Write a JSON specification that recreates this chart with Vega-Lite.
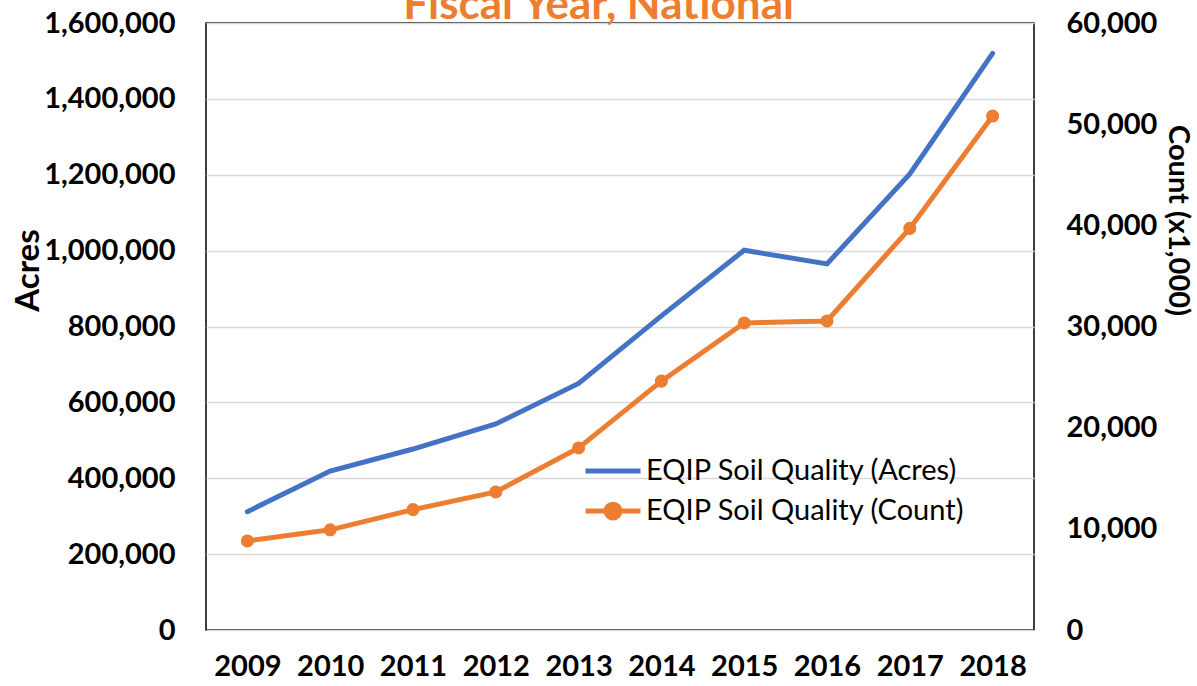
{
  "$schema": "https://vega.github.io/schema/vega-lite/v6.json",
  "width": 828,
  "height": 607,
  "autosize": "none",
  "padding": {"left": 206, "top": 23, "right": 163, "bottom": 56},
  "background": "white",
  "data": {
    "values": [
      {"year": "2009", "acres": 312000, "count": 8800},
      {"year": "2010", "acres": 419000, "count": 9900},
      {"year": "2011", "acres": 477000, "count": 11900},
      {"year": "2012", "acres": 543000, "count": 13650},
      {"year": "2013", "acres": 650000, "count": 18000},
      {"year": "2014", "acres": 828000, "count": 24600},
      {"year": "2015", "acres": 1001000, "count": 30350},
      {"year": "2016", "acres": 965000, "count": 30550},
      {"year": "2017", "acres": 1202000, "count": 39700},
      {"year": "2018", "acres": 1520000, "count": 50800}
    ]
  },
  "layer": [
    {
      "mark": {"type": "line", "strokeWidth": 5, "strokeCap": "round"},
      "encoding": {
        "x": {
          "field": "year",
          "type": "ordinal",
          "scale": {"type": "point", "padding": 0.5},
          "axis": {
            "orient": "bottom",
            "title": null,
            "labelAngle": 0,
            "domain": false,
            "ticks": false,
            "grid": false,
            "labelFont": "Lato",
            "labelFontSize": 29,
            "labelFontWeight": "bold",
            "labelColor": "black",
            "labelPadding": 22
          }
        },
        "y": {
          "field": "acres",
          "type": "quantitative",
          "scale": {"domain": [0, 1600000], "nice": false},
          "axis": {
            "orient": "left",
            "values": [0, 200000, 400000, 600000, 800000, 1000000, 1200000, 1400000, 1600000],
            "format": ",d",
            "domain": false,
            "ticks": false,
            "grid": true,
            "gridColor": "#D9D9D9",
            "gridWidth": 1.5,
            "labelFont": "Lato",
            "labelFontSize": 29,
            "labelFontWeight": "bold",
            "labelColor": "black",
            "labelPadding": 31,
            "title": "Acres",
            "titleFont": "Lato",
            "titleFontSize": 33,
            "titleFontWeight": "bold",
            "titleColor": "black",
            "titleAngle": -90,
            "titleX": -178,
            "titleY": 247,
            "titleBaseline": "middle",
            "titleAlign": "center"
          }
        },
        "color": {
          "datum": "EQIP Soil Quality (Acres)",
          "scale": {"range": ["#4472C4"]},
          "legend": {
            "title": null,
            "orient": "none",
            "legendX": 377,
            "legendY": 418,
            "padding": 0,
            "symbolType": "stroke",
            "symbolSize": 3025,
            "symbolStrokeWidth": 5,
            "labelFont": "Lato",
            "labelFontSize": 29,
            "labelColor": "black",
            "labelOffset": 3,
            "labelLimit": 1000
          }
        }
      }
    },
    {
      "mark": {"type": "line", "strokeWidth": 5, "strokeCap": "round", "point": {"size": 170, "filled": true}},
      "encoding": {
        "x": {
          "field": "year",
          "type": "ordinal",
          "scale": {"type": "point", "padding": 0.5},
          "axis": {
            "orient": "top",
            "labels": false,
            "domain": false,
            "ticks": false,
            "grid": false,
            "title": "Fiscal Year, National",
            "titleFont": "Lato",
            "titleFontSize": 44,
            "titleFontWeight": "bold",
            "titleColor": "#ED7D31",
            "titleX": 392,
            "titleY": -5,
            "titleAlign": "center",
            "titleBaseline": "alphabetic"
          }
        },
        "y": {
          "field": "count",
          "type": "quantitative",
          "scale": {"domain": [0, 60000], "nice": false},
          "axis": {
            "orient": "right",
            "values": [0, 10000, 20000, 30000, 40000, 50000, 60000],
            "format": ",d",
            "domain": false,
            "ticks": false,
            "grid": false,
            "labelFont": "Lato",
            "labelFontSize": 29,
            "labelFontWeight": "bold",
            "labelColor": "black",
            "labelPadding": 32,
            "title": "Count (x1,000)",
            "titleFont": "Lato",
            "titleFontSize": 29,
            "titleFontWeight": "bold",
            "titleColor": "black",
            "titleAngle": 90,
            "titleX": 143,
            "titleY": 197,
            "titleBaseline": "middle",
            "titleAlign": "center"
          }
        },
        "color": {
          "datum": "EQIP Soil Quality (Count)",
          "scale": {"range": ["#ED7D31"]},
          "legend": {
            "title": null,
            "orient": "none",
            "legendX": 377,
            "legendY": 458,
            "padding": 0,
            "symbolType": "M-1,0H1M-0.25,0A0.25,0.25,0,1,1,0.25,0A0.25,0.25,0,1,1,-0.25,0Z",
            "symbolSize": 3025,
            "symbolStrokeWidth": 5,
            "symbolFillColor": "#ED7D31",
            "labelFont": "Lato",
            "labelFontSize": 29,
            "labelColor": "black",
            "labelOffset": 3,
            "labelLimit": 1000
          }
        }
      }
    }
  ],
  "resolve": {"scale": {"y": "independent", "color": "independent"}, "axis": {"x": "independent"}},
  "config": {"view": {"stroke": "black", "strokeWidth": 1.5}}
}
